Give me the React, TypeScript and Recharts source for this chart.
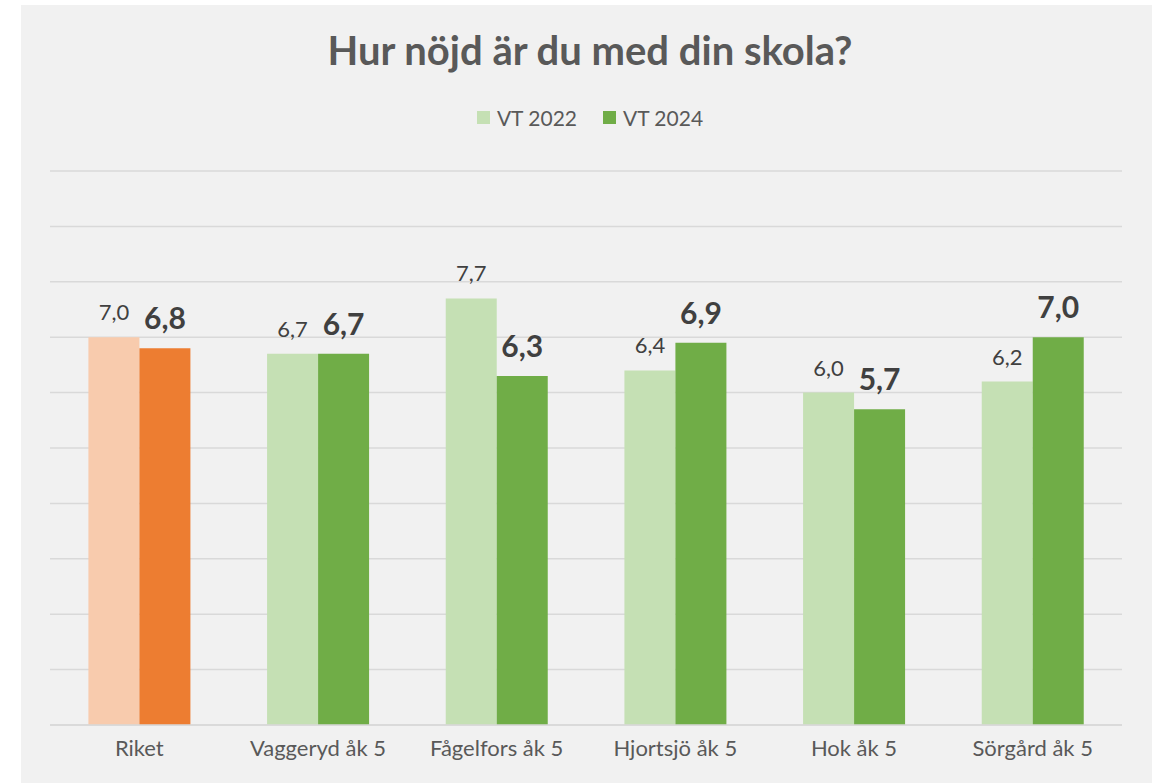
import React from 'react';
import { BarChart, Bar, XAxis, YAxis, CartesianGrid, LabelList, Cell } from 'recharts';

const categories = ['Riket', 'Vaggeryd åk 5', 'Fågelfors åk 5', 'Hjortsjö åk 5', 'Hok åk 5', 'Sörgård åk 5'];
const vt2022 = [7.0, 6.7, 7.7, 6.4, 6.0, 6.2];
const vt2024 = [6.8, 6.7, 6.3, 6.9, 5.7, 7.0];
const yTicks = [0, 1, 2, 3, 4, 5, 6, 7, 8, 9, 10];

const FONT = 'Lato, "Open Sans", sans-serif';
const LIGHT_GREEN = '#c5e0b4';
const DARK_GREEN = '#70ad47';
const LIGHT_ORANGE = '#f8cbad';
const DARK_ORANGE = '#ed7d31';

const data = categories.map((name, i) => ({ name, vt2022: vt2022[i], vt2024: vt2024[i] }));

const fmt = (v: number) => v.toFixed(1).replace('.', ',');

const label2022 = (props: any) => {
  const { x, y, width, value } = props;
  return (
    <text x={x + width / 2} y={y - 17} textAnchor="middle" fontSize={22} fill="#404040" fontFamily={FONT}>
      {fmt(value)}
    </text>
  );
};

const label2024 = (props: any) => {
  const { x, y, width, value } = props;
  return (
    <text x={x + width / 2} y={y - 19} textAnchor="middle" fontSize={30} fontWeight="bold" fill="#404040" fontFamily={FONT}>
      {fmt(value)}
    </text>
  );
};

const legendItems = [
  { name: 'VT 2022', color: LIGHT_GREEN },
  { name: 'VT 2024', color: DARK_GREEN },
];

export default function App() {
  return (
    <div style={{ position: 'absolute', left: 0, top: 0, width: 1160, height: 783, background: '#ffffff' }}>
      <div style={{ position: 'absolute', left: 21, top: 5, width: 1131, height: 778, background: '#f1f1f1' }} />
      <div
        style={{
          position: 'absolute',
          left: 0,
          top: 26,
          width: 1180,
          textAlign: 'center',
          fontFamily: FONT,
          fontWeight: 'bold',
          fontSize: 40,
          color: '#595959',
        }}
      >
        Hur nöjd är du med din skola?
      </div>
      <div
        style={{
          position: 'absolute',
          left: 0,
          top: 105,
          width: 1180,
          display: 'flex',
          justifyContent: 'center',
          gap: 26,
          fontFamily: FONT,
          fontSize: 21,
          color: '#595959',
        }}
      >
        {legendItems.map((it) => (
          <div key={it.name} style={{ display: 'flex', alignItems: 'center' }}>
            <span style={{ width: 13, height: 13, background: it.color, marginRight: 7, display: 'inline-block' }} />
            {it.name}
          </div>
        ))}
      </div>
      <div style={{ position: 'absolute', left: 0, top: 0 }}>
        <BarChart
          width={1160}
          height={783}
          data={data}
          margin={{ top: 171, right: 38, bottom: 28, left: 50 }}
          barGap={0}
          barCategoryGap="21.5%"
        >
          <CartesianGrid vertical={false} stroke="#d9d9d9" strokeWidth={1.5} />
          <XAxis
            dataKey="name"
            height={30}
            axisLine={{ stroke: '#d9d9d9', strokeWidth: 1.5 }}
            tickLine={false}
            tickMargin={9}
            tick={{ fontSize: 22, fill: '#595959', fontFamily: FONT }}
            interval={0}
          />
          <YAxis hide domain={[0, 10]} ticks={yTicks} />
          <Bar dataKey="vt2022" fill={LIGHT_GREEN} isAnimationActive={false}>
            {data.map((d, i) => (
              <Cell key={d.name} fill={i === 0 ? LIGHT_ORANGE : LIGHT_GREEN} />
            ))}
            <LabelList dataKey="vt2022" content={label2022} />
          </Bar>
          <Bar dataKey="vt2024" fill={DARK_GREEN} isAnimationActive={false}>
            {data.map((d, i) => (
              <Cell key={d.name} fill={i === 0 ? DARK_ORANGE : DARK_GREEN} />
            ))}
            <LabelList dataKey="vt2024" content={label2024} />
          </Bar>
        </BarChart>
      </div>
    </div>
  );
}
